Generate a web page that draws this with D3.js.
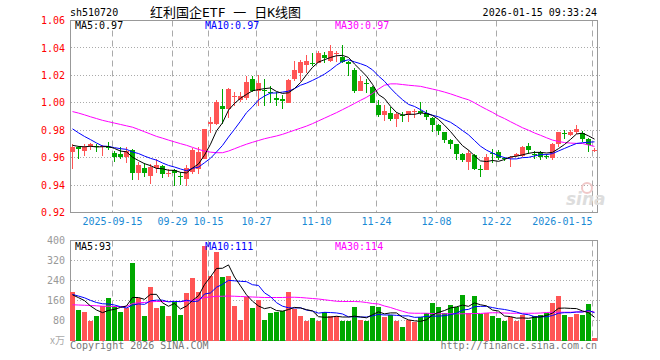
<!DOCTYPE html>
<html><head><meta charset="utf-8">
<script src="https://cdn.jsdelivr.net/npm/d3@7"></script>
<style>body{margin:0;background:#fff}svg{display:block}text{font-family:"DejaVu Sans Mono",monospace;font-size:10px}</style>
</head><body><svg id="c" width="660" height="360"></svg>
<script>
const dates = ["09-04","09-05","09-08","09-09","09-10","09-11","09-12",
"09-15","09-16","09-17","09-18","09-19","09-22","09-23","09-24","09-25","09-26",
"09-29","09-30","10-09","10-10","10-13","10-14","10-15","10-16","10-17",
"10-20","10-21","10-22","10-23","10-24","10-27","10-28","10-29","10-30","10-31",
"11-03","11-04","11-05","11-06","11-07","11-10","11-11","11-12","11-13","11-14",
"11-17","11-18","11-19","11-20","11-21","11-24","11-25","11-26","11-27","11-28",
"12-01","12-02","12-03","12-04","12-05","12-08","12-09","12-10","12-11","12-12",
"12-15","12-16","12-17","12-18","12-19","12-22","12-23","12-24","12-25","12-26",
"12-29","12-30","12-31","01-05","01-06","01-07","01-08","01-09",
"01-12","01-13","01-14","01-15"];

const open = [.964,.9675,.965,.9685,.9685,.968,.968,.9637,.9627,.9603,
.9656,.949,.9527,.9466,.9522,.954,.949,.9507,.9468,.9445,
.9494,.9518,.9592,.9842,.9844,.9976,.9954,1.0052,1.0021,1.0033,
1.017,1.0085,1.0094,1.0082,1.0038,1.003,1.0001,1.0173,1.0216,1.0278,
1.0292,1.0292,1.0351,1.0305,1.0362,1.0334,1.030,1.0241,1.0089,1.0145,
1.0116,.9984,.991,.9928,.9879,.991,.991,.9937,.994,.9928,
.9886,.9837,.9789,.9727,.9698,.9625,.9569,.9617,.9517,.9508,
.9632,.9642,.9595,.9598,.961,.961,.9684,.963,.9642,.9612,
.960,.9703,.9781,.9764,.9789,.9781,.9733,.9652];
const close = [.968,.966,.9675,.970,.9675,.9688,.9668,.9603,.9605,.9649,
.949,.9546,.949,.9534,.9546,.948,.949,.9487,.9462,.9523,
.9658,.964,.9808,.9861,1.0008,.9953,1.0102,1.0052,1.005,1.0148,
1.0087,1.0143,1.0088,1.0075,1.002,1.0015,1.0167,1.0241,1.0295,1.0302,
1.0287,1.036,1.0327,1.0376,1.0365,1.030,1.0285,1.0087,1.016,1.014,
1.0001,.9911,.9942,.9879,.9915,.9905,.9942,.9938,.9928,.9894,
.9837,.9796,.9727,.9698,.963,.9586,.9634,.952,.9512,.9605,
.9627,.960,.959,.9605,.963,.9678,.9654,.9625,.9605,.9607,
.9703,.9789,.9776,.9789,.9806,.9733,.9691,.9655];
const high = [.970,.9685,.970,.9705,.970,.9695,.9715,.9645,.9675,.9675,
.966,.957,.9558,.9554,.9588,.9545,.952,.952,.9497,.9545,
.967,.9675,.981,.9893,1.002,1.0099,1.0106,1.008,1.008,1.0192,
1.0192,1.0204,1.0172,1.0119,1.008,1.0058,1.0173,1.0302,1.0314,1.035,
1.0363,1.038,1.037,1.042,1.0377,1.0418,1.0302,1.0253,1.0192,1.017,
1.0119,1.0023,.9984,.997,.9935,.993,.9942,.9952,1.0008,.9947,
.9898,.9844,.9789,.9739,.9698,.9635,.9654,.963,.9544,.963,
.9666,.9658,.9605,.9612,.9635,.9684,.9708,.965,.965,.963,
.9708,.9789,.9805,.9805,.9837,.9796,.974,.9667];
const low = [.952,.959,.961,.9655,.9644,.961,.9655,.9565,.9588,.956,
.9435,.944,.946,.9405,.9485,.9455,.9456,.9396,.9404,.939,
.948,.948,.959,.9777,.9839,.9844,.9886,.998,1.0005,1.002,
1.0082,.9977,.9977,1.000,.9975,.9958,.9997,1.016,1.016,1.0216,
1.0266,1.029,1.0287,1.0296,1.0295,1.0292,1.0196,1.0075,1.0085,1.0075,
.9997,.9894,.987,.987,.9825,.9863,.9863,.9889,.991,.9877,
.9788,.9766,.9708,.966,.9582,.9569,.9507,.9507,.9458,.9507,
.9563,.9585,.9578,.9532,.9605,.9605,.9625,.9593,.9585,.9587,
.9581,.9679,.9739,.9757,.9776,.9715,.9642,.9642];
const volume = [193,124,116,77,100,140,169,137,116,129,
309,169,100,216,129,140,100,156,104,189,
252,193,380,260,356,256,260,137,84,176,
129,164,84,109,113,117,196,127,97,80,
92,80,116,100,97,77,80,133,84,80,
140,136,93,103,80,53,84,73,93,111,
149,136,111,144,133,184,111,180,107,111,
100,91,80,96,80,104,84,100,103,111,
151,180,104,96,107,104,148,9];
// closes / volumes of the 9 sessions before the first visible one (estimated)
const prevClose = [.995,.994,.993,.992,.991,.970,.969,.968,.970];
const prevVolume = [190,185,180,185,190,180,175,185,180];
// 30-day averages
const ma30Price = [.9936,.9925,.9912,.9898,.9885,.9872,.9862,.9852,.9842,.9832,
.9822,.9806,.9789,.9772,.9755,.9742,.9728,.9715,.9702,.9690,
.9675,.9660,.9648,.9640,.9636,.9636,.9648,.9665,.9682,.9698,
.9712,.9725,.9738,.9748,.9758,.9770,.9785,.9800,.9815,.9830,
.9848,.9868,.9888,.9908,.9928,.9950,.9972,.9995,1.0018,1.0040,
1.0068,1.0100,1.0128,1.0138,1.0138,1.0133,1.0128,1.0124,1.0120,1.0110,
1.0100,1.0090,1.0078,1.0065,1.0050,1.0035,1.0022,1.0000,.9975,.9952,
.9930,.9905,.9885,.9862,.9840,.9818,.9800,.9780,.9763,.9745,
.9728,.9718,.9710,.9706,.9704,.9703,.9692,.9682];
const ma30Volume = [143,142,141,140,139,137,137,136,136,136,
148,151,152,155,156,156,156,156,156,157,
162,165,172,174,177,177,178,177,176,175,
174,173,172,172,172,172,173,173,172,170,
168,166,163,160,157,156,156,156,155,152,
148,146,138,132,124,117,110,109,109,109,
108,107,107,107,107,107,107,108,108,110,
111,111,110,109,109,109,109,109,110,112,
113,113,113,113,114,115,116,114];
const priceTicks = [0.92,0.94,0.96,0.98,1.00,1.02,1.04,1.06];
const volTicks = [80,160,240,320,400];
const dateTicks = ["09-15","09-29","10-15","10-27","11-10","11-24","12-08","12-22","01-15"];
const dateTickLabels = ["2025-09-15","09-29","10-15","10-27","11-10","11-24","12-08","12-22","2026-01-15"];

const RED = "#ff5555", GREEN = "#00a800";
const svg = d3.select("#c");
const n = close.length;
const L = 70, R = 598;
const x = d3.scaleBand().domain(d3.range(n)).range([L, R]).padding(0);
const xl = d3.scaleLinear().domain([0, n]).range([L, R]);
const yP = d3.scaleLinear().domain([0.92, 1.06]).range([212.5, 20.5]);
const yV = d3.scaleLinear().domain([0, 400]).range([340.5, 240.5]);

function ma(arr, prev, k) {
  const all = prev.concat(arr), off = prev.length;
  return arr.map((_, i) => d3.mean(all.slice(off + i - k + 1, off + i + 1)));
}
const ma5P = ma(close, prevClose, 5), ma10P = ma(close, prevClose, 10);
const ma5V = ma(volume, prevVolume, 5), ma10V = ma(volume, prevVolume, 10);
const up = d3.range(n).map(i => close[i] >= open[i]);
const tickIdx = dateTicks.map(d => dates.indexOf(d));

// grids
const g = svg.append("g");
function hgrid(scale, vals, x1, x2) {
  g.selectAll(null).data(vals).join("line")
    .attr("x1", x1).attr("x2", x2)
    .attr("y1", d => Math.floor(scale(d)) + 0.5).attr("y2", d => Math.floor(scale(d)) + 0.5)
    .attr("stroke", "#aaa").attr("stroke-dasharray", "1,2");
}
hgrid(yP, priceTicks.slice(1, -1), 71, 600);
hgrid(yV, volTicks.slice(0, -1), 71, 600);
[[20.5, 212], [240.5, 340]].forEach(([a, b]) => {
  g.selectAll(null).data(tickIdx).join("line")
    .attr("x1", i => Math.round(xl(i)) + 0.5).attr("x2", i => Math.round(xl(i)) + 0.5)
    .attr("y1", a).attr("y2", b)
    .attr("stroke", "#aaa").attr("stroke-dasharray", "6,4");
});

// frames
svg.append("rect").attr("x", 70.5).attr("y", 20.5).attr("width", 527).attr("height", 192)
  .attr("fill", "none").attr("stroke", "#999");
svg.append("rect").attr("x", 70.5).attr("y", 240.5).attr("width", 527).attr("height", 100)
  .attr("fill", "none").attr("stroke", "#999");

// watermark
svg.append("text").attr("x", 566).attr("y", 205).text("sina")
  .style("font-family", "DejaVu Sans").style("font-size", "17px").style("font-weight", "bold")
  .style("font-style", "italic").attr("fill", "#ddd");
svg.append("circle").attr("cx", 587).attr("cy", 188).attr("r", 5).attr("fill", "none").attr("stroke", "#f0c8c8").attr("stroke-width", 2);

// candles
const cg = svg.append("g").attr("shape-rendering", "crispEdges");
cg.selectAll("line.w").data(d3.range(n)).join("line").attr("class", "w")
  .attr("x1", i => x(i) + 2.5).attr("x2", i => x(i) + 2.5)
  .attr("y1", i => yP(high[i])).attr("y2", i => yP(low[i]))
  .attr("stroke", i => up[i] ? RED : GREEN);
cg.selectAll("rect.b").data(d3.range(n)).join("rect").attr("class", "b")
  .attr("x", i => x(i)).attr("width", 5)
  .attr("y", i => yP(Math.max(open[i], close[i])))
  .attr("height", i => Math.max(1, yP(Math.min(open[i], close[i])) - yP(Math.max(open[i], close[i]))))
  .attr("fill", i => up[i] ? RED : GREEN);

// volume bars
cg.selectAll("rect.v").data(d3.range(n)).join("rect").attr("class", "v")
  .attr("x", i => x(i)).attr("width", 5)
  .attr("y", i => yV(volume[i])).attr("height", i => yV(0) - yV(volume[i]))
  .attr("fill", i => up[i] ? RED : GREEN);

// MA lines
function mline(vals, scale, color) {
  svg.append("path").datum(vals)
    .attr("d", d3.line().x((d, i) => x(i) + 2.5).y(d => scale(d)))
    .attr("fill", "none").attr("stroke", color).attr("stroke-width", 1);
}
mline(ma30Price, yP, "#ff00ff");
mline(ma10P, yP, "#0000ff");
mline(ma5P, yP, "#000");
mline(ma30Volume, yV, "#ff00ff");
mline(ma10V, yV, "#0000ff");
mline(ma5V, yV, "#000");

// axes
const ay = svg.append("g").attr("transform", "translate(70,0)")
  .call(d3.axisLeft(yP).tickValues(priceTicks).tickFormat(d3.format(".2f")).tickSize(0).tickPadding(5));
ay.select(".domain").remove();
ay.selectAll("text").attr("fill", "#f00").style("font-size", "10px").style("font-family", "DejaVu Sans Mono");

const av = svg.append("g").attr("transform", "translate(70,0)")
  .call(d3.axisLeft(yV).tickValues(volTicks).tickSize(0).tickPadding(5));
av.select(".domain").remove();
av.selectAll("text").attr("fill", "#999").style("font-size", "10px").style("font-family", "DejaVu Sans Mono");
svg.append("text").attr("x", 65).attr("y", 344).attr("text-anchor", "end").attr("fill", "#aaa")
  .style("font-family", "'Noto Sans CJK SC', 'DejaVu Sans Mono'").text("x万");

const ax = svg.append("g").attr("transform", "translate(0,212)")
  .call(d3.axisBottom(xl).tickValues(tickIdx).tickFormat((d, k) => dateTickLabels[k]).tickSize(0).tickPadding(6));
ax.select(".domain").remove();
ax.selectAll("text").attr("fill", "#1a8ad4").style("font-size", "10px").style("font-family", "DejaVu Sans Mono")
  .attr("text-anchor", (d, k) => k === tickIdx.length - 1 ? "end" : "middle");

// header
svg.append("text").attr("x", 70).attr("y", 16).attr("fill", "#000").text("sh510720");
svg.append("text").attr("x", 150).attr("y", 17).attr("fill", "#000")
  .style("font-family", "'DejaVu Sans Mono', 'Noto Sans CJK SC'").style("font-size", "13px")
  .text("红利国企ETF 一 日K线图");
svg.append("text").attr("x", 597).attr("y", 16).attr("text-anchor", "end").attr("fill", "#000")
  .text("2026-01-15 09:33:24");

// legends
const f2 = d3.format(".2f");
svg.append("text").attr("x", 75).attr("y", 29).attr("fill", "#000").text("MA5:" + f2(ma5P[n - 1]));
svg.append("text").attr("x", 205).attr("y", 29).attr("fill", "#0000ff").text("MA10:" + f2(ma10P[n - 1]));
svg.append("text").attr("x", 335).attr("y", 29).attr("fill", "#ff00ff").text("MA30:" + f2(ma30Price[n - 1]));
svg.append("text").attr("x", 75).attr("y", 250).attr("fill", "#000").text("MA5:" + Math.round(ma5V[n - 1]));
svg.append("text").attr("x", 205).attr("y", 250).attr("fill", "#0000ff").text("MA10:" + Math.round(ma10V[n - 1]));
svg.append("text").attr("x", 335).attr("y", 250).attr("fill", "#ff00ff").text("MA30:" + ma30Volume[n - 1]);

// footer
svg.append("text").attr("x", 70).attr("y", 349).attr("fill", "#777").text("Copyright 2026 SINA.COM");
svg.append("text").attr("x", 597).attr("y", 349).attr("text-anchor", "end").attr("fill", "#777").text("http://finance.sina.com.cn");
</script></body></html>
